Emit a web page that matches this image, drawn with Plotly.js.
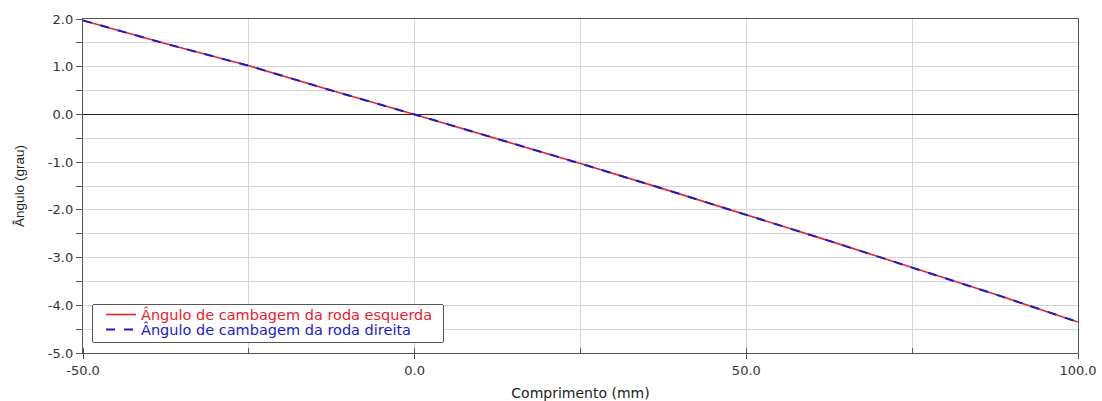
<!DOCTYPE html>
<html><head><meta charset="utf-8">
<script src="https://cdn.plot.ly/plotly-3.0.1.min.js"></script>
<style>html,body{margin:0;padding:0;background:#fff}#c{width:1102px;height:401px}</style>
</head><body><div id="c"></div>
<script>
const comprimento = [-50, -37.5, -25, -12.5, 0, 12.5, 25, 37.5, 50, 62.5, 75, 87.5, 100];
const camberEsquerda = [1.97, 1.48, 1.02, 0.50, 0.0, -0.51, -1.03, -1.56, -2.10, -2.65, -3.21, -3.77, -4.35];
const camberDireita  = [1.97, 1.48, 1.02, 0.50, 0.0, -0.51, -1.03, -1.56, -2.10, -2.65, -3.21, -3.77, -4.35];
const seriesNames = ["Ângulo de cambagem da roda esquerda", "Ângulo de cambagem da roda direita"];
const xTickVals = [-50, 0, 50, 100];
const xTickText = ["-50.0", "0.0", "50.0", "100.0"];
const yTickVals = [-5, -4, -3, -2, -1, 0, 1, 2];
const yTickText = ["-5.0", "-4.0", "-3.0", "-2.0", "-1.0", "0.0", "1.0", "2.0"];

const RED = "#e8212b", BLUE = "#1a1ad2";
const wide = "DejaVu Sans, Verdana, sans-serif";
const font = {family: wide, size: 13, color: "#333"};
const traces = [
  {x: comprimento, y: camberEsquerda, mode: "lines",
   name: '<span style="color:' + RED + '">' + seriesNames[0] + '</span>',
   line: {color: RED, width: 1.6}},
  {x: comprimento, y: camberDireita, mode: "lines",
   name: '<span style="color:' + BLUE + '">' + seriesNames[1] + '</span>',
   line: {color: BLUE, width: 2, dash: "dash"}}
];
const layout = {
  width: 1102, height: 401,
  margin: {l: 83, r: 24, t: 19, b: 48},
  paper_bgcolor: "#fff", plot_bgcolor: "#fff",
  font: font,
  showlegend: true,
  legend: {x: 0.009, y: 0.033, xanchor: "left", yanchor: "bottom",
    bgcolor: "#fff", bordercolor: "#555", borderwidth: 1,
    font: {family: wide, size: 14.5},
    tracegroupgap: 0, itemwidth: 30},
  xaxis: {
    range: [-50, 100], tickvals: xTickVals, ticktext: xTickText,
    ticks: "outside", ticklen: 5, tickcolor: "#555",
    showgrid: true, gridcolor: "#d4d4d4", gridwidth: 1,
    minor: {dtick: 25, tick0: 0, ticks: "inside", ticklen: 5, tickcolor: "#555", showgrid: true, gridcolor: "#d4d4d4"},
    showline: true, linecolor: "#555", linewidth: 1.2, mirror: true,
    zeroline: false,
    tickfont: font,
    title: {text: "Comprimento (mm)", font: {family: wide, size: 14, color: "#222"}, standoff: 11}
  },
  yaxis: {
    range: [-5, 2], tickvals: yTickVals, ticktext: yTickText,
    ticks: "outside", ticklen: 6, tickcolor: "#555",
    showgrid: true, gridcolor: "#d4d4d4",
    minor: {dtick: 0.5, tick0: 0, ticks: "outside", ticklen: 6, tickcolor: "#555", showgrid: true, gridcolor: "#d4d4d4"},
    showline: true, linecolor: "#555", linewidth: 1.2, mirror: true,
    zeroline: true, zerolinecolor: "#222", zerolinewidth: 1,
    tickfont: font,
    title: {text: "Ângulo (grau)", font: {family: "Liberation Sans, Arial, sans-serif", size: 13.5, color: "#222"}, standoff: 20}
  }
};
const gd = document.getElementById("c");
Plotly.newPlot(gd, traces, layout, {displayModeBar: false, staticPlot: true}).then(function () {
  // compact legend spacing to match the reference box
  const leg = gd.querySelector(".legend");
  if (!leg) return;
  leg.querySelectorAll("[clip-path]").forEach(function (el) { el.removeAttribute("clip-path"); });
  leg.querySelectorAll(".traces").forEach(function (t, i) {
    t.setAttribute("transform", "translate(9," + (10.5 + i * 15) + ")");
  });
  const bg = leg.querySelector("rect.bg");
  if (bg) { bg.setAttribute("height", 38); bg.setAttribute("width", 351); bg.setAttribute("rx", 2); bg.setAttribute("ry", 2); }
  leg.setAttribute("transform", "translate(92,304)");
});
</script></body></html>
